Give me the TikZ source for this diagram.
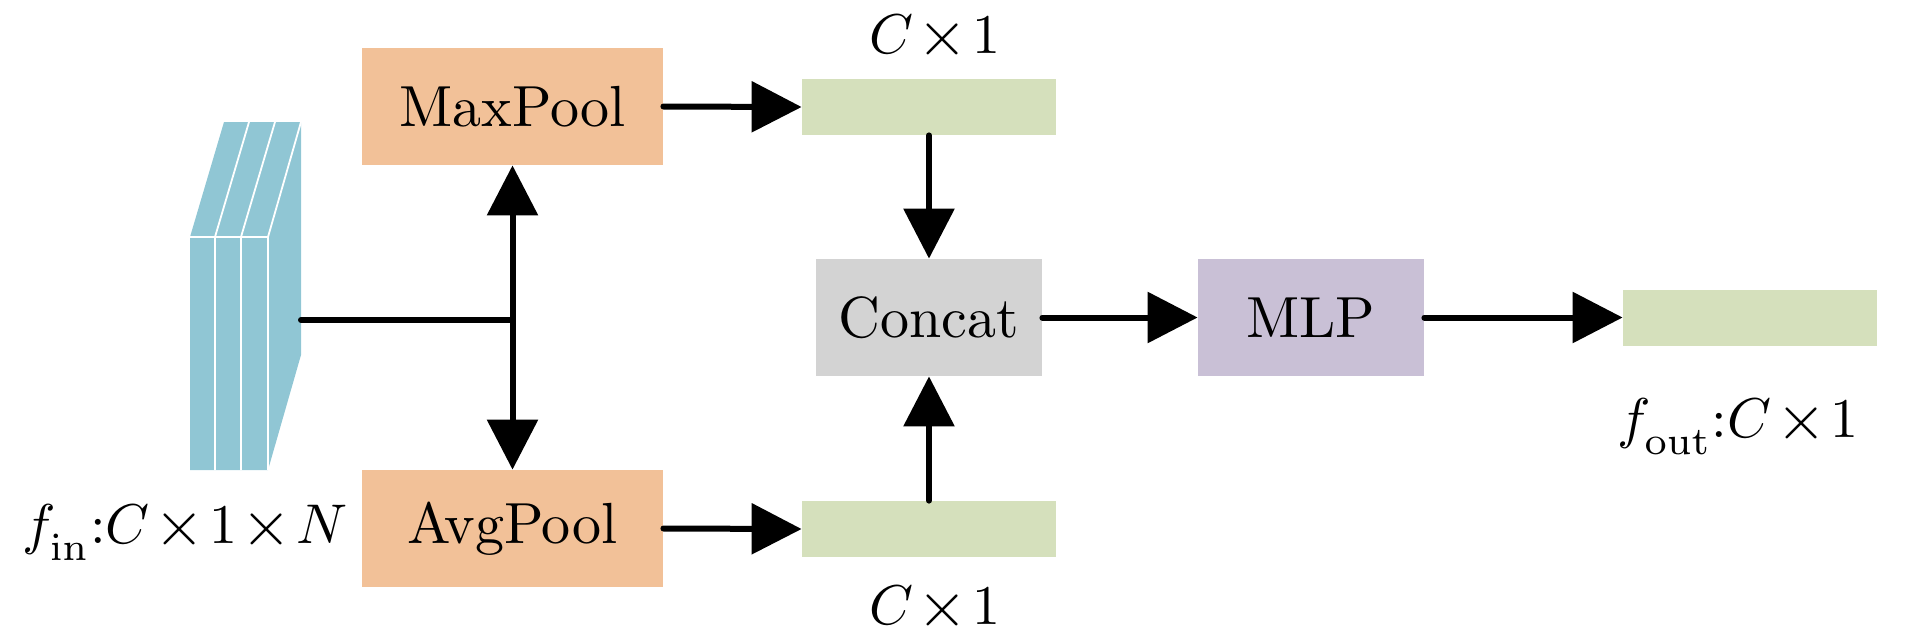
\RequirePackage{fix-cm}
\documentclass[tikz,border=0pt]{standalone}
\usepackage{graphicx}
\usetikzlibrary{arrows.meta}
\definecolor{cubeblue}{RGB}{144,198,212}
\definecolor{poolorange}{RGB}{242,193,152}
\definecolor{vecgreen}{RGB}{213,224,188}
\definecolor{catgray}{RGB}{211,211,211}
\definecolor{mlppurple}{RGB}{201,192,214}
\newcommand{\boxtxt}[1]{\scalebox{2.9}{#1}}
\newcommand{\mathtxt}[1]{\scalebox{2.8}{#1}}
\newcommand{\tx}{\mskip1.5mu{\vcenter{\hbox{\scalebox{1.15}{$\times$}}}}\mskip1.5mu}
\newcommand{\lowsub}[1]{_{\lower1.6pt\hbox{$\scriptstyle\mathrm{#1}$}}}
\tikzset{
  blk/.style={rectangle, inner sep=0pt, minimum width=#1, font=\fontsize{10}{12}\selectfont},
  poolbox/.style={blk=150.5pt, minimum height=58.5pt, fill=poolorange},
  vecbox/.style={rectangle, inner sep=0pt, minimum width=127pt, minimum height=28pt, fill=vecgreen},
  midbox/.style={blk=113pt, minimum height=58.5pt},
  lbl/.style={anchor=base, inner sep=0pt, font=\fontsize{10}{12}\selectfont},
  conn/.style={line width=3pt, line cap=round},
  arr/.style={conn, -{Triangle[length=25pt,width=25pt]}},
}
\begin{document}
\begin{tikzpicture}[x=0.5pt,y=-0.5pt]
\useasboundingbox (0,0) rectangle (1913,638);
% input feature cube
\fill[cubeblue] (190,237) -- (224,122) -- (301,122) -- (301,355) -- (268,470) -- (190,470) -- cycle;
\draw[white, line width=0.9pt] (190,237) -- (268,237) -- (301,122);
\draw[white, line width=0.9pt] (215,470) -- (215,237) -- (249,122);
\draw[white, line width=0.9pt] (241,470) -- (241,237) -- (275,122);
\draw[white, line width=0.9pt] (268,470) -- (268,237);
\coordinate (cubeR) at (301,320);
% blocks
\node[poolbox] (maxpool) at (512.5,106.5) {\boxtxt{MaxPool}};
\node[poolbox] (avgpool) at (512.5,528.5) {\boxtxt{AvgPool}};
\node[vecbox] (gtop) at (929,107) {};
\node[vecbox] (gbot) at (929,529) {};
\node[midbox, fill=catgray] (concat) at (929,317.5) {\boxtxt{Concat}};
\node[midbox, fill=mlppurple] (mlp) at (1311,317.5) {\boxtxt{MLP}};
\node[vecbox] (gout) at (1750,317.5) {};
% labels
\node[lbl] (lfin) at (185,543) {\mathtxt{$f\lowsub{in}$:$C\tx 1\tx N$}};
\node[lbl] (ltop) at (935,53) {\mathtxt{$C\tx 1$}};
\node[lbl] (lbot) at (935,624) {\mathtxt{$C\tx 1$}};
\node[lbl] (lout) at (1738,437) {\mathtxt{$f\lowsub{out}$:$C\tx 1$}};
% connectors
\coordinate (J) at (maxpool.south |- cubeR);
\draw[conn] (cubeR) -- (J);
\draw[arr] (J) -- (maxpool.south);
\draw[arr] (J) -- (avgpool.north);
\draw[arr] (maxpool.east) -- (gtop.west);
\draw[arr] (avgpool.east) -- (gbot.west);
\draw[arr] (gtop.south) -- (concat.north);
\draw[arr] (gbot.north) -- (concat.south);
\draw[arr] (concat.east) -- (mlp.west);
\draw[arr] (mlp.east) -- (gout.west);
\end{tikzpicture}
\end{document}
